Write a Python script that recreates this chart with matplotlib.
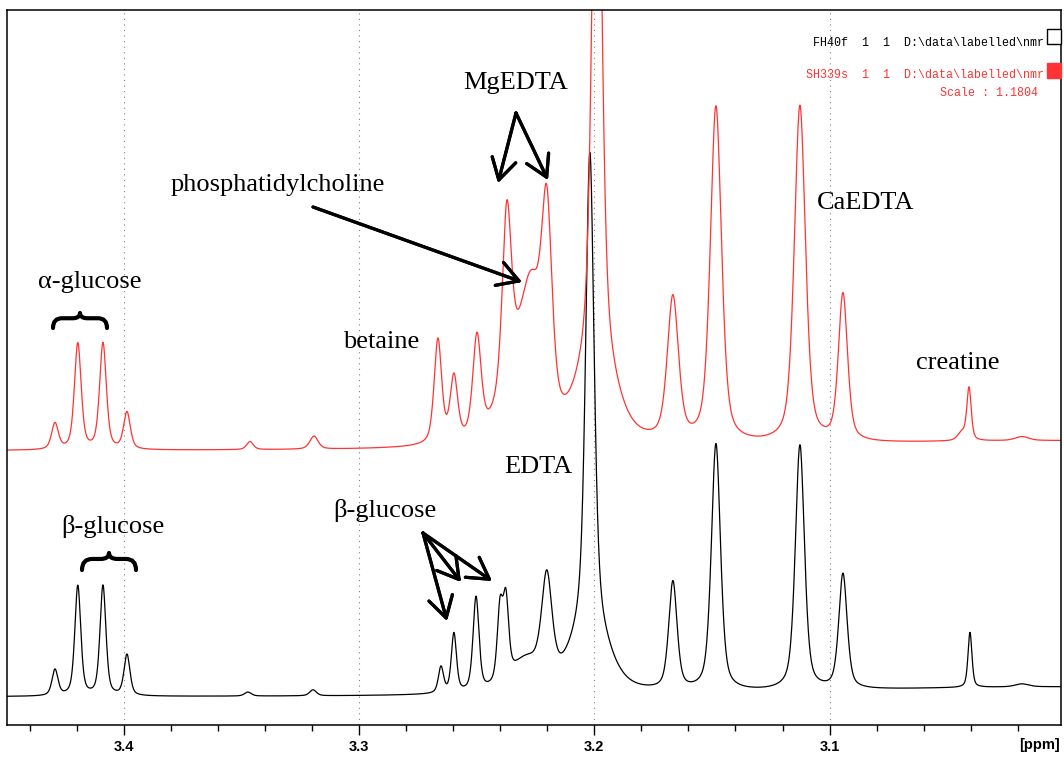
import numpy as np
import matplotlib
matplotlib.use("Agg")
import matplotlib.pyplot as plt
from matplotlib.path import Path
from matplotlib.patches import PathPatch, Rectangle

# === Peak tables (ppm, intensity, half width in ppm) ===
black_pos = [3.4293, 3.4196, 3.4089, 3.3987, 3.3473, 3.3196, 3.2652, 3.2597,
             3.2503, 3.2401, 3.2376, 3.2290, 3.2202, 3.2019, 3.2019, 3.1666,
             3.1483, 3.1126, 3.0943, 3.0403, 3.0182, 3.0000]
black_height = [26, 110, 110, 41, 4, 6, 26, 59,
                94, 72, 76, 30, 100, 465, 75, 108,
                247, 245, 115, 55, 3, 10]
black_width = [0.0015, 0.0015, 0.0015, 0.0015, 0.0017, 0.0017, 0.0013, 0.0013,
               0.0015, 0.0014, 0.0014, 0.0081, 0.0026, 0.0021, 0.0085, 0.0021,
               0.0023, 0.0023, 0.0021, 0.0010, 0.0034, 0.12]

red_pos = [3.4293, 3.4196, 3.4089, 3.3987, 3.3464, 3.3192, 3.2665, 3.2597,
           3.2499, 3.2372, 3.2320, 3.2265, 3.2202, 3.1989, 3.1989, 3.1666,
           3.1483, 3.1126, 3.0943, 3.0437, 3.0407, 3.0182, 3.0000]
red_height = [26, 106, 106, 37, 8, 13, 104, 64,
              100, 180, 66, 105, 192, 650, 95, 143,
              336, 337, 147, 8, 52, 4, 10]
red_width = [0.0017, 0.0017, 0.0017, 0.0017, 0.0017, 0.0021, 0.0019, 0.0019,
             0.0021, 0.0023, 0.0085, 0.0051, 0.0026, 0.0023, 0.0085, 0.0028,
             0.0028, 0.0028, 0.0023, 0.0021, 0.0011, 0.0034, 0.12]

black_offset = 28
red_offset = 274
line_mix = 0.5  # lorentz / gauss mix of the line shape

tick_major = [3.4, 3.3, 3.2, 3.1]
ppm_range = (3.4497, 3.0016)

W, H = 1064, 758


def spectrum(ppm, pos, height, width, eta=line_mix):
    y = np.zeros_like(ppm)
    for p, h, w in zip(pos, height, width):
        u = ((ppm - p) / w) ** 2
        y += h * (eta / (1 + u) + (1 - eta) * np.exp(-np.log(2) * u))
    return y


def fx(x):
    return x / W


def fy(y):
    return 1 - y / H


fig = plt.figure(figsize=(W / 100, H / 100), dpi=100)
ax = fig.add_axes([fx(7), fy(725), (1061 - 7) / W, (725 - 10) / H])

ppm = np.linspace(ppm_range[0], ppm_range[1], 3000)
ax.plot(ppm, black_offset + spectrum(ppm, black_pos, black_height, black_width),
        color="black", lw=0.9)
ax.plot(ppm, red_offset + spectrum(ppm, red_pos, red_height, red_width),
        color="#ff3333", lw=0.9)

ax.set_xlim(*ppm_range)
ax.set_ylim(0, 715)
for t in tick_major:
    ax.axvline(t, color="#808080", lw=0.8, ls=(0, (1, 4)), zorder=0)

ax.set_xticks(tick_major)
ax.set_xticks(np.arange(3.44, 3.0, -0.02), minor=True)
ax.set_xticklabels([f"{t:.1f}" for t in tick_major],
                   fontfamily="Liberation Sans", fontweight="bold", fontsize=10.5)
ax.tick_params(axis="x", which="major", length=7, width=1, direction="out", pad=4)
ax.tick_params(axis="x", which="minor", length=4.5, width=1, direction="out")
ax.set_yticks([])
for s in ax.spines.values():
    s.set_linewidth(1.1)

fig.text(fx(1040), fy(745), "[ppm]", ha="center", va="center",
         fontfamily="Liberation Sans", fontweight="bold", fontsize=10.5)

# === labels ===
serif = dict(ha="center", va="center", fontfamily="Liberation Serif", fontsize=19)
labels = [("MgEDTA", 516, 83), ("phosphatidylcholine", 278, 185),
          ("CaEDTA", 866, 203), ("\u03b1-glucose", 90, 282),
          ("betaine", 381, 342), ("creatine", 958, 363), ("EDTA", 538, 467),
          ("\u03b2-glucose", 113, 527), ("\u03b2-glucose", 385, 510)]
for txt, x, y in labels:
    fig.text(fx(x), fy(y), txt, **serif)

arrows = [((516, 113), (498, 183)), ((516, 113), (548, 180)),
          ((313, 207), (522, 282)),
          ((423, 533), (447, 621)), ((423, 533), (461, 582)),
          ((423, 533), (492, 581))]
for (x0, y0), (x1, y1) in arrows:
    fig.add_artist(plt.annotate(
        "", xy=(fx(x1), fy(y1)), xytext=(fx(x0), fy(y0)),
        xycoords="figure fraction", textcoords="figure fraction",
        arrowprops=dict(arrowstyle="->, head_length=0.6, head_width=0.35",
                        lw=2.3, color="black", mutation_scale=25,
                        shrinkA=0, shrinkB=0)))


def brace(x0, x1, ytop, ybot):
    xm = (x0 + x1) / 2
    h = ybot - ytop
    yl = ytop + 0.35 * h
    pts = [(x0, ybot), (x0, yl), (x0 + 0.6 * h, yl), (xm - 0.5 * h, yl),
           (xm, yl), (xm, ytop), (xm, yl), (xm + 0.5 * h, yl),
           (x1 - 0.6 * h, yl), (x1, yl), (x1, ybot)]
    codes = [Path.MOVETO, Path.CURVE3, Path.CURVE3, Path.LINETO,
             Path.CURVE3, Path.CURVE3, Path.CURVE3, Path.CURVE3,
             Path.LINETO, Path.CURVE3, Path.CURVE3]
    verts = [(fx(x), fy(y)) for x, y in pts]
    fig.add_artist(PathPatch(Path(verts, codes), transform=fig.transFigure,
                             fill=False, lw=3, color="black",
                             capstyle="round", joinstyle="round"))


brace(53, 107, 313, 328)
brace(82, 136, 553, 570)

# === dataset legend (top right) ===
mono = dict(ha="right", va="center", fontfamily="Liberation Mono", fontsize=8.4)
fig.text(fx(1044), fy(43), "FH40f  1  1  D:\\data\\labelled\\nmr", color="black", **mono)
fig.text(fx(1044), fy(75), "SH339s  1  1  D:\\data\\labelled\\nmr", color="#ff3333", **mono)
fig.text(fx(1038), fy(93), "Scale : 1.1804", color="#ff3333", **mono)
fig.add_artist(Rectangle((fx(1047), fy(44)), 14 / W, 15 / H, transform=fig.transFigure,
                         facecolor="white", edgecolor="black", lw=1))
fig.add_artist(Rectangle((fx(1047), fy(78)), 14 / W, 15 / H, transform=fig.transFigure,
                         facecolor="#ff3333", edgecolor="#ff3333", lw=1))

fig.savefig("out.png", dpi=100)
